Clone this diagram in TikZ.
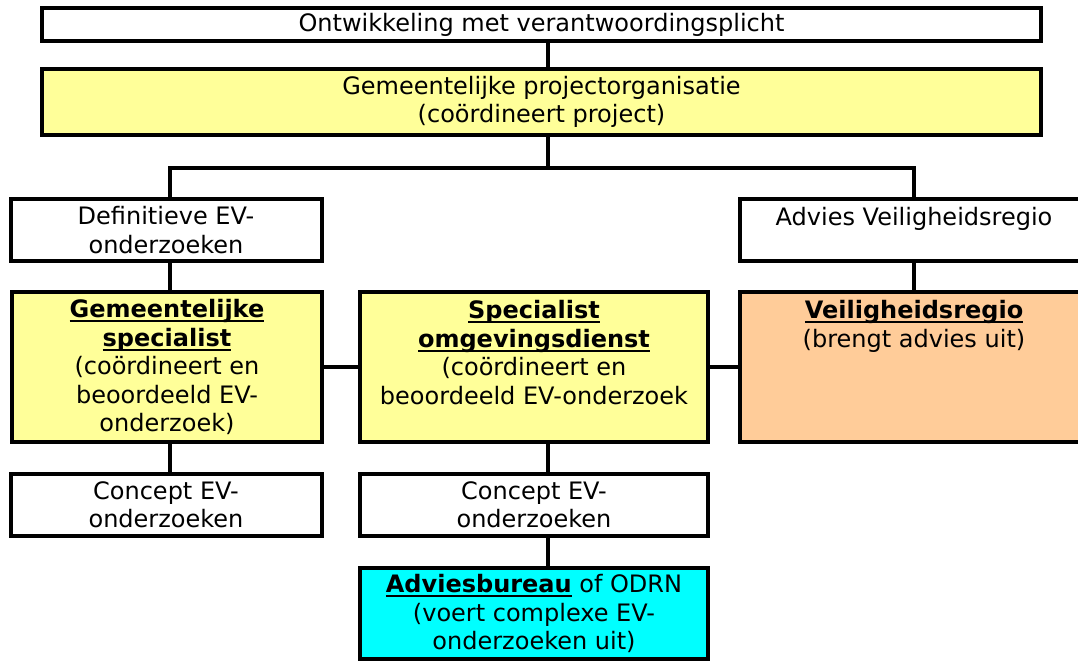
\documentclass[tikz,border=0pt]{standalone}
\usepackage{fontspec}
\setmainfont{DejaVu Sans}
\usepackage{xcolor}
\usepackage{tikz}

\definecolor{evgeel}{HTML}{FFFF99}
\definecolor{evoranje}{HTML}{FFCC99}
\definecolor{evcyaan}{HTML}{00FFFF}

\newsavebox{\kopbox}
\newcommand{\kop}[1]{\leavevmode\sbox{\kopbox}{\textbf{#1}}\rlap{\rule[-4.5pt]{\wd\kopbox}{2pt}}\usebox{\kopbox}}
\newcommand{\bovenaan}[2]{\parbox[c][#1][t]{330pt}{\centering\vspace*{7pt}\strut #2}}

\begin{document}
\begin{tikzpicture}[x=1pt,y=-1pt,
    cel/.style={draw, line width=4pt, inner sep=0pt, align=center,
      font=\fontsize{24}{28.5}\selectfont},
    witcel/.style={cel, fill=white},
    geelcel/.style={cel, fill=evgeel},
    lijn/.style={line width=4pt}]
		\useasboundingbox (0,0) rectangle (1078,661);
		% kolommen van de verbindingslijnen
		\coordinate (klinks) at (170,0);
		\coordinate (kmidden) at (548,0);
		\coordinate (krechts) at (914,0);
		\coordinate (bus) at (0,168);
		% bovenste niveaus
		\node[witcel, minimum width=999, minimum height=33] (ontw) at (541.5,24.5) {Ontwikkeling met verantwoordingsplicht};
		\node[geelcel, minimum width=999, minimum height=66] (proj) at (541.5,102) {Gemeentelijke projectorganisatie\\(coördineert project)};
		% producten
		\node[witcel, minimum width=311, minimum height=62] (defin) at (166,230) {Definitieve EV-\\onderzoeken};
		\node[witcel, minimum width=348, minimum height=62] (advvr) at (914,230) {\bovenaan{62pt}{Advies Veiligheidsregio}};
		% specialisten
		\node[geelcel, minimum width=310, minimum height=150] (gem) at (167,367) {\kop{Gemeentelijke}\\\kop{specialist}\\(coördineert en\\beoordeeld EV-\\onderzoek)};
		\node[geelcel, minimum width=348, minimum height=150] (spec) at (534,367) {\bovenaan{150pt}{\kop{Specialist}\\\kop{omgevingsdienst}\\(coördineert en\\beoordeeld EV-onderzoek}};
		\node[cel, fill=evoranje, minimum width=348, minimum height=150] (vr) at (914,367) {\bovenaan{150pt}{\kop{Veiligheidsregio}\\(brengt advies uit)}};
		% concepten en uitvoering
		\node[witcel, minimum width=311, minimum height=62] (conc1) at (166,505) {Concept EV-\\onderzoeken};
		\node[witcel, minimum width=348, minimum height=62] (conc2) at (534,505) {Concept EV-\\onderzoeken};
		\node[cel, fill=evcyaan, minimum width=348, minimum height=91] (advb) at (534,613.5) {\kop{Adviesbureau} of ODRN\\(voert complexe EV-\\onderzoeken uit)};
		% verbindingen
		\draw[lijn] (ontw.south -| kmidden) -- (proj.north -| kmidden);
		\draw[lijn] (proj.south -| kmidden) -- (bus -| kmidden);
		\draw[lijn] (defin.north -| klinks) -- (bus -| klinks) -- (bus -| krechts) -- (advvr.north -| krechts);
		\draw[lijn] (defin.south -| klinks) -- (gem.north -| klinks);
		\draw[lijn] (advvr.south -| krechts) -- (vr.north -| krechts);
		\draw[lijn] (gem.east) -- (spec.west);
		\draw[lijn] (spec.east) -- (vr.west);
		\draw[lijn] (gem.south -| klinks) -- (conc1.north -| klinks);
		\draw[lijn] (spec.south -| kmidden) -- (conc2.north -| kmidden);
		\draw[lijn] (conc2.south -| kmidden) -- (advb.north -| kmidden);
	\end{tikzpicture}
\end{document}
